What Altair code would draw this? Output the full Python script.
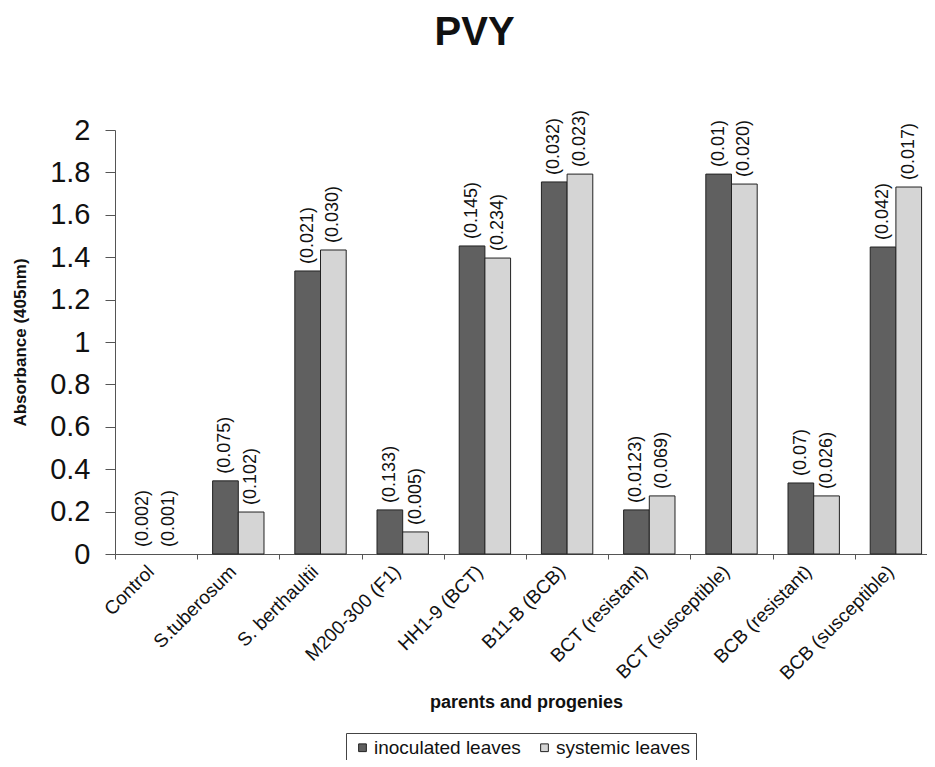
import altair as alt
import pandas as pd

categories = ["Control", "S.tuberosum", "S. berthaultii", "M200-300 (F1)", "HH1-9 (BCT)",
              "B11-B (BCB)", "BCT (resistant)", "BCT (susceptible)", "BCB (resistant)", "BCB (susceptible)"]
series = ["inoculated leaves", "systemic leaves"]
inoculated = [0.0, 0.345, 1.335, 0.208, 1.453, 1.755, 0.208, 1.792, 0.335, 1.448]
systemic = [0.0, 0.198, 1.434, 0.104, 1.396, 1.792, 0.274, 1.745, 0.274, 1.731]
inoculated_sd = ["(0.002)", "(0.075)", "(0.021)", "(0.133)", "(0.145)", "(0.032)", "(0.0123)", "(0.01)", "(0.07)", "(0.042)"]
systemic_sd = ["(0.001)", "(0.102)", "(0.030)", "(0.005)", "(0.234)", "(0.023)", "(0.069)", "(0.020)", "(0.026)", "(0.017)"]
colors = ["#606060", "#d5d5d5"]

rows = []
for i, c in enumerate(categories):
    rows.append({"category": c, "series": series[0], "value": inoculated[i], "label": inoculated_sd[i]})
    rows.append({"category": c, "series": series[1], "value": systemic[i], "label": systemic_sd[i]})
df = pd.DataFrame(rows)

FONT = "Liberation Sans"

x = alt.X("category:N", sort=categories, title="parents and progenies",
          scale=alt.Scale(paddingInner=0, paddingOuter=0),
          axis=alt.Axis(labelAngle=-45, labelFontSize=19, labelFont=FONT, labelColor="#111",
                        titleFontSize=18, titleFont=FONT, titleFontWeight="bold", titleColor="#111",
                        tickBand="extent", tickSize=5, tickColor="#555", domainColor="#555",
                        labelPadding=3, labelOffset=-12, titlePadding=11))
xo = alt.XOffset("series:N", sort=series, scale=alt.Scale(paddingOuter=0.6, paddingInner=0))
y = alt.Y("value:Q", title="Absorbance (405nm)",
          scale=alt.Scale(domain=[0, 2], nice=False),
          axis=alt.Axis(values=[0, 0.2, 0.4, 0.6, 0.8, 1, 1.2, 1.4, 1.6, 1.8, 2], format="~g",
                        labelFontSize=29, labelFont=FONT, labelColor="#111", grid=False,
                        tickSize=10, tickColor="#555", domainColor="#555", labelPadding=15,
                        titleFontSize=17, titleFont=FONT, titleFontWeight="bold", titleColor="#111",
                        titlePadding=20))

bars = alt.Chart(df).mark_bar(stroke="#222", strokeWidth=1).encode(
    x=x, xOffset=xo, y=y,
    strokeOpacity=alt.condition(alt.datum.value > 0, alt.value(1), alt.value(0)),
    color=alt.Color("series:N", sort=series, scale=alt.Scale(domain=series, range=colors),
                    legend=alt.Legend(title=None, orient="none", legendX=231, legendY=603,
                                      direction="horizontal", symbolType="square", symbolSize=60,
                                      symbolStrokeColor="#222", symbolStrokeWidth=1,
                                      labelFontSize=19, labelFont=FONT, labelColor="#111",
                                      strokeColor="#444", fillColor="white", padding=5,
                                      columnPadding=12, labelOffset=2, symbolOffset=2))
)

texts = alt.Chart(df).mark_text(angle=270, align="left", baseline="middle", dx=7,
                                fontSize=18, font=FONT, color="#111").encode(
    x=x, xOffset=xo, y=y, text="label:N"
)

chart = (bars + texts).properties(
    width=822, height=424,
    title=alt.TitleParams("PVY", fontSize=40, font=FONT, fontWeight="bold", color="#111",
                          offset=57, frame="bounds", anchor="middle"),
    autosize=alt.AutoSizeParams(type="none"),
    padding={"left": 107, "top": 122, "right": -10, "bottom": 206}
).configure_view(stroke=None)

chart.save("out.html", embed_options={"renderer": "svg", "actions": False})
